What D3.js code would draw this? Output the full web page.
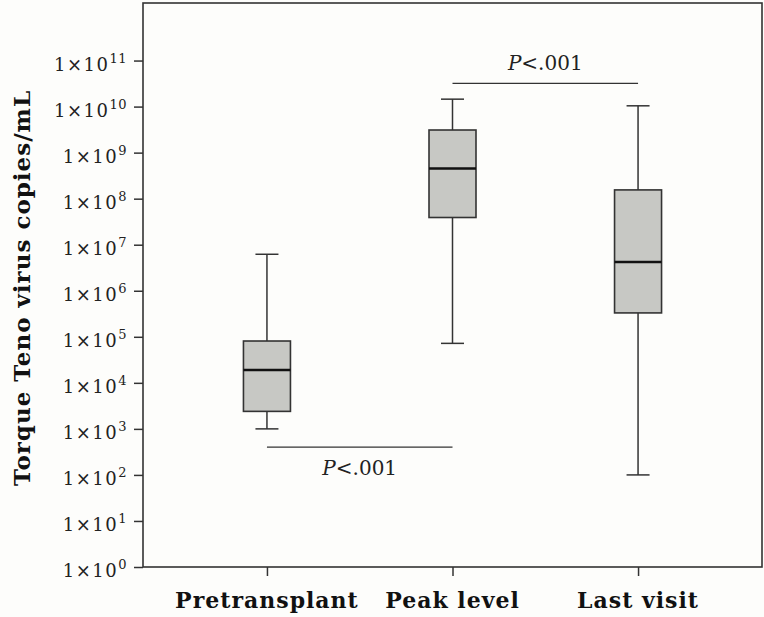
<!DOCTYPE html>
<html>
<head>
<meta charset="utf-8">
<script src="https://cdn.jsdelivr.net/npm/d3@7"></script>
<style>
  body { margin: 0; background: #fdfdfb; }
  svg { display: block; }
</style>
</head>
<body>
<div id="chart"></div>
<script>
// data
var categories = ["Pretransplant", "Peak level", "Last visit"];
var whiskerLow  = [1.0e3, 7.2e4, 1.0e2];
var q1          = [2.4e3, 3.9e7, 3.3e5];
var median      = [1.9e4, 4.5e8, 4.2e6];
var q3          = [8.1e4, 3.1e9, 1.55e8];
var whiskerHigh = [6.2e6, 1.45e10, 1.04e10];
var tickExponents = [0, 1, 2, 3, 4, 5, 6, 7, 8, 9, 10, 11];

// significance brackets
var compFrom  = ["Pretransplant", "Peak level"];
var compTo    = ["Peak level", "Last visit"];
var compLevel = [400, 3.2e10];
var compText  = ["<.001", "<.001"];
var compSide  = ["below", "above"];

var W = 764, H = 617;
var margin = {top: 3, right: 2, bottom: 50, left: 143};
var width = W - margin.left - margin.right;
var height = H - margin.top - margin.bottom;

var svg = d3.select("#chart")
  .append("svg")
    .attr("width", W)
    .attr("height", H)
  .append("g")
    .attr("transform", "translate(" + margin.left + "," + margin.top + ")");

var x = d3.scalePoint()
    .domain(categories)
    .range([0, width])
    .padding(0.668);

var y = d3.scaleLog()
    .domain([1, Math.pow(10, 12.25)])
    .range([height, 0]);

var ink = "#333";
var serif = "'DejaVu Serif', serif";

// frame
svg.append("rect")
    .attr("x", 0).attr("y", 0)
    .attr("width", width).attr("height", height)
    .attr("fill", "none")
    .attr("stroke", ink)
    .attr("stroke-width", 1.6);

// y axis
var yAxis = svg.append("g")
    .call(d3.axisLeft(y)
      .tickValues(tickExponents.map(function(e) { return Math.pow(10, e); }))
      .tickSize(9)
      .tickFormat(""));
yAxis.select(".domain").remove();
yAxis.selectAll(".tick line").attr("stroke", ink).attr("stroke-width", 1.5);

var ylab = svg.append("g").selectAll("text")
    .data(tickExponents)
    .enter()
    .append("text")
    .attr("x", -16)
    .attr("y", function(d) { return y(Math.pow(10, d)) + 10; })
    .attr("text-anchor", "end")
    .style("font-family", serif)
    .style("font-size", "18px")
    .style("letter-spacing", "1.5px")
    .attr("fill", "#222");
ylab.append("tspan").text("1\u00d710");
ylab.append("tspan")
    .attr("dy", -8)
    .style("font-size", "13px")
    .style("letter-spacing", "0.5px")
    .text(function(d) { return d; });

// x axis
var xAxis = svg.append("g")
    .attr("transform", "translate(0," + height + ")")
    .call(d3.axisBottom(x).tickSize(9).tickFormat(""));
xAxis.select(".domain").remove();
xAxis.selectAll(".tick line").attr("stroke", ink).attr("stroke-width", 1.5);

svg.append("g").selectAll("text")
    .data(categories)
    .enter()
    .append("text")
    .attr("x", function(d) { return x(d); })
    .attr("y", height + 41)
    .attr("text-anchor", "middle")
    .style("font-family", serif)
    .style("font-weight", "bold")
    .style("font-size", "22px")
    .style("letter-spacing", "1px")
    .attr("fill", "#111")
    .text(function(d) { return d; });

// y title
svg.append("text")
    .attr("transform", "rotate(-90)")
    .attr("x", -(288 - margin.top))
    .attr("y", -margin.left + 30)
    .attr("text-anchor", "middle")
    .style("font-family", serif)
    .style("font-weight", "bold")
    .style("font-size", "23px")
    .style("letter-spacing", "1px")
    .attr("fill", "#111")
    .text("Torque Teno virus copies/mL");

// boxes
var boxW = 47, capW = 23;
var boxes = svg.append("g").selectAll("g")
    .data(categories)
    .enter()
    .append("g");

boxes.append("line")
    .attr("x1", function(d) { return x(d); })
    .attr("x2", function(d) { return x(d); })
    .attr("y1", function(d, i) { return y(whiskerLow[i]); })
    .attr("y2", function(d, i) { return y(whiskerHigh[i]); })
    .attr("stroke", ink).attr("stroke-width", 1.5);

[whiskerLow, whiskerHigh].forEach(function(arr) {
  boxes.append("line")
      .attr("x1", function(d) { return x(d) - capW / 2; })
      .attr("x2", function(d) { return x(d) + capW / 2; })
      .attr("y1", function(d, i) { return y(arr[i]); })
      .attr("y2", function(d, i) { return y(arr[i]); })
      .attr("stroke", ink).attr("stroke-width", 1.5);
});

boxes.append("rect")
    .attr("x", function(d) { return x(d) - boxW / 2; })
    .attr("width", boxW)
    .attr("y", function(d, i) { return y(q3[i]); })
    .attr("height", function(d, i) { return y(q1[i]) - y(q3[i]); })
    .attr("fill", "#c7c8c4")
    .attr("stroke", ink)
    .attr("stroke-width", 1.6);

boxes.append("line")
    .attr("x1", function(d) { return x(d) - boxW / 2; })
    .attr("x2", function(d) { return x(d) + boxW / 2; })
    .attr("y1", function(d, i) { return y(median[i]); })
    .attr("y2", function(d, i) { return y(median[i]); })
    .attr("stroke", "#111").attr("stroke-width", 2.5);

// brackets
var comps = svg.append("g").selectAll("g")
    .data(compFrom)
    .enter()
    .append("g");

comps.append("line")
    .attr("x1", function(d) { return x(d); })
    .attr("x2", function(d, i) { return x(compTo[i]); })
    .attr("y1", function(d, i) { return y(compLevel[i]); })
    .attr("y2", function(d, i) { return y(compLevel[i]); })
    .attr("stroke", ink).attr("stroke-width", 1.3);

var ptext = comps.append("text")
    .attr("x", function(d, i) { return (x(d) + x(compTo[i])) / 2; })
    .attr("y", function(d, i) { return y(compLevel[i]) + (compSide[i] === "below" ? 28 : -13); })
    .attr("text-anchor", "middle")
    .style("font-family", serif)
    .style("font-size", "20px")
    .attr("fill", "#222");
ptext.append("tspan").style("font-style", "italic").text("P");
ptext.append("tspan").text(function(d, i) { return compText[i]; });
</script>
</body>
</html>
